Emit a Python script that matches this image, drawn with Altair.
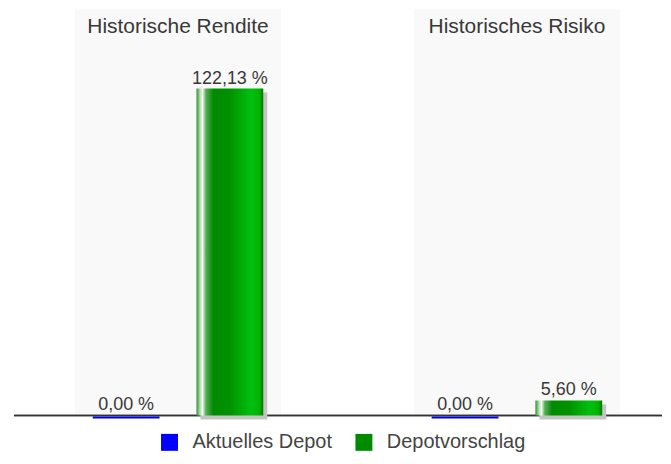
import altair as alt
import pandas as pd

kennzahlen = ["Historische Rendite", "Historisches Risiko"]
serien = ["Aktuelles Depot", "Depotvorschlag"]
aktuell = [0.00, 0.00]
vorschlag = [122.13, 5.60]
farben = ["#0000ff", "#008a00"]


def fmt(v):
    return f"{v:.2f}".replace(".", ",") + " %"


rows = []
for i, k in enumerate(kennzahlen):
    rows.append({"Kennzahl": k, "Serie": serien[0], "Wert": aktuell[i], "Label": fmt(aktuell[i])})
    rows.append({"Kennzahl": k, "Serie": serien[1], "Wert": vorschlag[i], "Label": fmt(vorschlag[i])})
df = pd.DataFrame(rows)
bg = pd.DataFrame({"Kennzahl": kennzahlen})

H = 408
W = 650
FONT = "Liberation Sans"

x_enc = alt.X("Kennzahl:N",
              scale=alt.Scale(domain=kennzahlen, range=[61, 608], paddingInner=0.391, paddingOuter=0),
              axis=None)
xo_enc = alt.XOffset("Serie:N", scale=alt.Scale(domain=serien, paddingInner=0.356, paddingOuter=0.173))
xo_shadow = alt.XOffset("Serie:N", scale=alt.Scale(domain=serien, paddingInner=0.356, paddingOuter=0.173,
                                                   align=0.611))
y_enc = alt.Y("Wert:Q", scale=alt.Scale(domain=[0, 152]), axis=None)

green_grad = {
    "gradient": "linear", "x1": 0, "x2": 1, "y1": 0, "y2": 0,
    "stops": [
        {"offset": 0.0, "color": "#2f8f2f"},
        {"offset": 0.05, "color": "#a8d8a8"},
        {"offset": 0.09, "color": "#f4fff4"},
        {"offset": 0.14, "color": "#5aae5a"},
        {"offset": 0.25, "color": "#008a00"},
        {"offset": 0.5, "color": "#009200"},
        {"offset": 0.82, "color": "#00c010"},
        {"offset": 0.94, "color": "#00b400"},
        {"offset": 1.0, "color": "#007800"},
    ],
}

background = alt.Chart(bg).mark_rect(color="#f9f9f9").encode(
    x=x_enc, y=alt.value(0), y2=alt.value(H)
)
titles = alt.Chart(bg).mark_text(fontSize=21, font=FONT, color="#383838", baseline="alphabetic").encode(
    x=x_enc, y=alt.value(24), text="Kennzahl:N"
)
baseline = alt.Chart(bg).mark_rule(color="#333333", strokeWidth=1.5).encode(
    x=alt.value(0), x2=alt.value(W), y=alt.value(H)
)

base = alt.Chart(df)
shadow = base.transform_filter(alt.datum.Serie == serien[1]).mark_bar(
    color="#c4c4c4", yOffset=4, y2Offset=0
).encode(x=x_enc, xOffset=xo_shadow, y=y_enc)

bars = base.mark_bar(y2Offset=1, opacity=0).encode(
    x=x_enc, xOffset=xo_enc, y=y_enc,
    color=alt.Color("Serie:N", scale=alt.Scale(domain=serien, range=farben),
                    legend=alt.Legend(orient="none", legendX=146, legendY=425, direction="horizontal",
                                      title=None, symbolType="square", symbolSize=289,
                                      symbolStrokeWidth=0, symbolOpacity=1, labelFontSize=20, labelFont=FONT,
                                      labelColor="#444444", labelOffset=13, columnPadding=21, padding=0)),
)
green = base.transform_filter(alt.datum.Serie == serien[1]).mark_bar(
    color=green_grad, y2Offset=1
).encode(x=x_enc, xOffset=xo_enc, y=y_enc)
blue = base.transform_filter(alt.datum.Serie == serien[0]).mark_bar(
    fill="#0000e8", stroke="#0000e8", strokeWidth=2, yOffset=2, y2Offset=2
).encode(x=x_enc, xOffset=xo_enc, y=y_enc)
labels = base.mark_text(fontSize=18, font=FONT, color="#383838", baseline="alphabetic", dy=-5).encode(
    x=x_enc, xOffset=xo_enc, y=y_enc, text="Label:N"
)

frame = alt.layer(background, titles, baseline)
main = alt.layer(bars, green, blue, labels)

chart = alt.layer(frame, shadow, main).resolve_scale(
    xOffset="independent"
).properties(
    width=W, height=H, padding={"left": 5, "top": 0, "right": 0, "bottom": 5}
).configure_view(stroke=None)

chart.save("out.html", embed_options={"renderer": "svg", "actions": False})
